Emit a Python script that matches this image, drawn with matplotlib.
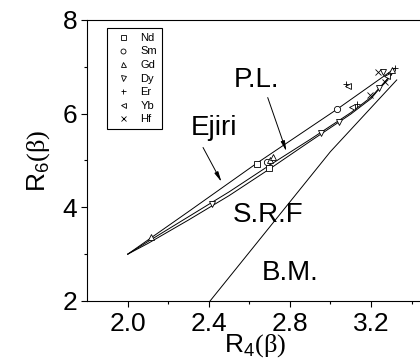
import matplotlib
matplotlib.use("Agg")
import matplotlib.pyplot as plt

plt.rcParams['font.family'] = ['Liberation Sans', 'DejaVu Sans']
plt.rcParams['mathtext.fontset'] = 'custom'
plt.rcParams['mathtext.rm'] = 'Liberation Serif'
plt.rcParams['mathtext.sf'] = 'Liberation Sans'

# curves (R4, R6)
ejiri_x = [2.0, 2.3, 2.636, 3.031, 3.319]
ejiri_y = [3.0, 3.91, 4.94, 6.09, 6.97]
pl_x = [2.0, 2.1, 2.3, 2.5, 2.7, 2.9, 3.1, 3.2, 3.31]
pl_y = [3.0, 3.27, 3.80, 4.33, 4.90, 5.45, 6.02, 6.35, 6.88]
srf_x = [2.0, 2.1, 2.3, 2.5, 2.7, 2.9, 3.1, 3.2, 3.30]
srf_y = [3.0, 3.23, 3.73, 4.25, 4.82, 5.41, 5.99, 6.32, 6.84]
bm_x = [2.406, 3.0, 3.327]
bm_y = [2.0, 5.19, 6.72]

# nuclei data
elements = ['Nd', 'Sm', 'Gd', 'Dy', 'Er', 'Yb', 'Hf']
markers = ['s', 'o', '^', 'v', '+', '<', 'x']
r4 = [
    [2.636, 2.697],
    [2.686, 3.031],
    [2.115, 2.700, 2.716, 3.302],
    [2.414, 2.954, 3.042, 3.241, 3.261],
    [3.075, 3.130, 3.285, 3.319],
    [3.087, 3.105, 3.280],
    [3.195, 3.237, 3.269],
]
r6 = [
    [4.93, 4.84],
    [4.96, 6.09],
    [3.36, 5.01, 5.08, 6.93],
    [4.07, 5.58, 5.82, 6.54, 6.90],
    [6.64, 6.20, 6.82, 6.97],
    [6.60, 6.15, 6.81],
    [6.40, 6.90, 6.68],
]

fig = plt.figure(figsize=(4.2, 3.63), dpi=100)
ax = fig.add_axes([87.2 / 420, 62 / 363, 336.5 / 420, 281 / 363])

lw = 0.7
ax.plot(ejiri_x, ejiri_y, color='black', lw=lw)
ax.plot(pl_x, pl_y, color='black', lw=lw)
ax.plot(srf_x, srf_y, color='black', lw=lw)
ax.plot(bm_x, bm_y, color='black', lw=lw)

for name, m, xs, ys in zip(elements, markers, r4, r6):
    ax.plot(xs, ys, ls='none', marker=m, ms=4.5, mfc='white', mec='black',
            mew=0.6, label=name)

ax.text(2.636, 6.576, 'P.L.', fontsize=20, ha='center', va='baseline')
ax.text(2.427, 5.545, 'Ejiri', fontsize=20, ha='center', va='baseline')
ax.text(2.694, 3.69, 'S.R.F', fontsize=20, ha='center', va='baseline')
ax.text(2.803, 2.448, 'B.M.', fontsize=20, ha='center', va='baseline')

arrow = dict(arrowstyle='-|>,head_length=0.6,head_width=0.12', color='black', lw=0.7)
ax.annotate('', xy=(2.469, 4.49), xytext=(2.365, 5.33), arrowprops=arrow)
ax.annotate('', xy=(2.787, 5.14), xytext=(2.686, 6.40), arrowprops=arrow)

ax.set_xlim(1.8, 3.46)
ax.set_ylim(2, 8)
ax.set_xticks([2.0, 2.4, 2.8, 3.2])
ax.set_xticks([2.2, 2.6, 3.0, 3.4], minor=True)
ax.set_yticks([2, 4, 6, 8])
ax.set_yticks([3, 5, 7], minor=True)
ax.tick_params(which='both', direction='out', labelsize=19, width=0.8)
ax.tick_params(which='major', length=4)
ax.tick_params(which='minor', length=2.5)
ax.tick_params(axis='x', pad=4)
ax.tick_params(axis='y', pad=3)
for s in ax.spines.values():
    s.set_linewidth(0.8)
ax.spines['right'].set_visible(False)

ax.set_xlabel(r'R$_\mathsf{4}\mathrm{(\beta)}$', fontsize=19, labelpad=-3)
ax.set_ylabel(r'R$_\mathsf{6}\mathrm{(\beta)}$', fontsize=19, labelpad=8)

leg = ax.legend(loc='upper left', bbox_to_anchor=(0.058, 0.97), borderaxespad=0,
                fontsize=8, handlelength=2.2, handletextpad=0.45, markerscale=0.8,
                labelspacing=0.32, borderpad=0.4, fancybox=False,
                edgecolor='black', framealpha=1)
leg.get_frame().set_linewidth(0.8)

fig.savefig('out.png', dpi=100)
